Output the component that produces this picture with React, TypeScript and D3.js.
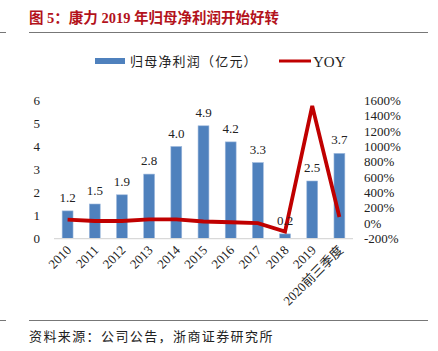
import React from "react";
import * as d3 from "d3";

const categories = ["2010", "2011", "2012", "2013", "2014", "2015", "2016", "2017", "2018", "2019", "2020前三季度"];
const profit = [1.2, 1.5, 1.9, 2.8, 4.0, 4.9, 4.2, 3.3, 0.2, 2.5, 3.7];
const yoy = [45, 28, 28, 50, 50, 22, 12, 0, -110, 1530, 80];
const leftTicks = [0, 1, 2, 3, 4, 5, 6];
const rightTicks = [-200, 0, 200, 400, 600, 800, 1000, 1200, 1400, 1600];

const W = 438;
const H = 351;
const serif = "'Liberation Serif', 'Noto Sans CJK SC', serif";
const cjk = "'Noto Sans CJK SC', sans-serif";
const red = "#C00000";
const blue = "#4F81BD";

const App = () => {
    // x band for the 11 periods
    const x = d3.scaleBand<string>()
        .domain(categories)
        .range([54, 353])
        .paddingInner(0.6)
        .paddingOuter(0.3);
    const yL = d3.scaleLinear().domain([0, 6]).range([238.5, 100.5]);
    const yR = d3.scaleLinear().domain([-200, 1600]).range([238.5, 100.5]);
    const cx = (c: string) => (x(c) as number) + x.bandwidth() / 2;

    const line = d3.line<number>()
        .x((d, i) => cx(categories[i]))
        .y((d) => yR(d));

    return (
        <svg width={W} height={H} style={{ position: "absolute", left: 0, top: 0 }}>
            <rect width={W} height={H} fill="#fff" />
            {/* title */}
            <text x={29} y={23} fill="#B3121B" fontWeight="bold" fontSize={14.5} fontFamily={serif}>
                图 5：康力 2019 年归母净利润开始好转
            </text>
            <line x1={0} x2={6} y1={32.5} y2={32.5} stroke="#777" />
            <line x1={29} x2={428} y1={32.5} y2={32.5} stroke="#777" />

            {/* legend */}
            <rect x={95} y={58} width={30} height={6} fill={blue} />
            <text x={130} y={66} fontSize={13} fontFamily={cjk} letterSpacing={1.2} fill="#222">归母净利润（亿元）</text>
            <line x1={279} x2={311} y1={61} y2={61} stroke={red} strokeWidth={3} />
            <text x={313} y={67} fontSize={15} fontFamily={serif} fill="#222">YOY</text>

            {/* left axis */}
            {leftTicks.map((t) => (
                <text key={t} x={40} y={yL(t) + 4.5} textAnchor="end" fontSize={13} fontFamily={serif} fill="#222">{t}</text>
            ))}
            {/* right axis */}
            {rightTicks.map((t) => (
                <text key={t} x={364} y={yR(t) + 4.5} fontSize={13} fontFamily={serif} fill="#222">{t}%</text>
            ))}

            {/* bars */}
            {categories.map((c, i) => (
                <rect key={c} x={x(c)} y={yL(profit[i])} width={x.bandwidth()} height={yL(0) - yL(profit[i])}
                    fill={blue} stroke="#9DB8DC" strokeWidth={0.6} />
            ))}
            <line x1={54} x2={353} y1={238.7} y2={238.7} stroke="#D9D9D9" strokeWidth={1.2} />

            {/* YOY line */}
            <path d={line(yoy) as string} fill="none" stroke={red} strokeWidth={3.8} strokeLinejoin="miter" />

            {/* bar labels */}
            {categories.map((c, i) => (
                <text key={c} x={cx(c)} y={yL(profit[i]) - 9} textAnchor="middle" fontSize={13} fontFamily={serif} fill="#222">
                    {profit[i].toFixed(1)}
                </text>
            ))}

            {/* x labels */}
            {categories.map((c) => (
                <text key={c} transform={`translate(${cx(c) + 4.5},${251}) rotate(-45)`} textAnchor="end"
                    fontSize={13} fontFamily={serif} fill="#222">{c}</text>
            ))}

            {/* source */}
            <line x1={0} x2={6} y1={320.5} y2={320.5} stroke="#777" />
            <line x1={29} x2={428} y1={320.5} y2={320.5} stroke="#777" />
            <text x={29} y={341} fontSize={13} fontFamily={cjk} letterSpacing={1.4} fill="#222">资料来源：公司公告，浙商证券研究所</text>
        </svg>
    );
};

export default App;
